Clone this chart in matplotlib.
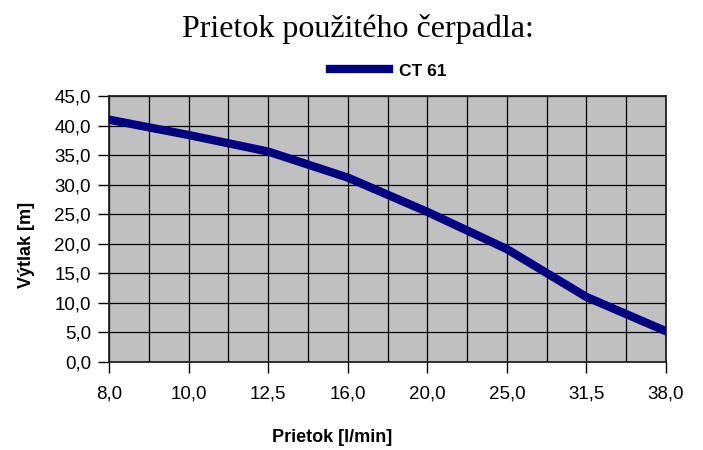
import matplotlib.pyplot as plt
from matplotlib.ticker import FixedLocator

flow_labels = ["8,0", "10,0", "12,5", "16,0", "20,0", "25,0", "31,5", "38,0"]
head_ct61 = [41.0, 38.4, 35.6, 31.2, 25.4, 19.1, 11.0, 5.2]
y_ticks = [0, 5, 10, 15, 20, 25, 30, 35, 40, 45]

fig = plt.figure(figsize=(7.03, 4.5), dpi=100)
ax = fig.add_axes([109 / 703, 1 - 362 / 450, (666 - 109) / 703, (362 - 96) / 450])

xs = list(range(len(flow_labels)))
ax.set_facecolor("#c0c0c0")
ax.plot(xs, head_ct61, color="#000080", linewidth=6, solid_joinstyle="round",
        label="CT 61", zorder=3)

ax.set_xlim(0, len(flow_labels) - 1)
ax.set_ylim(0, 45)
ax.set_xticks(xs)
ax.set_xticklabels(flow_labels, fontfamily="Liberation Sans", fontsize=13.5)
ax.xaxis.set_minor_locator(FixedLocator([i + 0.5 for i in xs[:-1]]))
ax.set_yticks(y_ticks)
ax.set_yticklabels([f"{v:.1f}".replace(".", ",") for v in y_ticks],
                   fontfamily="Liberation Sans", fontsize=13.5)
ax.grid(True, which="both", color="black", linewidth=0.9, zorder=1)
ax.set_axisbelow(True)
ax.tick_params(axis="both", which="major", length=8, width=1.0, color="black")
ax.tick_params(axis="y", pad=5)
ax.tick_params(axis="x", pad=9)
ax.tick_params(axis="x", which="minor", length=0)
for s in ax.spines.values():
    s.set_color("#222222")
    s.set_linewidth(1.3)

ax.set_xlabel("Prietok [l/min]", fontfamily="Liberation Sans", fontsize=13,
              fontweight="bold", va="top")
ax.xaxis.set_label_coords(0.401, -0.25)
ax.set_ylabel("Výtlak [m]", fontfamily="Liberation Sans", fontsize=13,
              fontweight="bold")
ax.yaxis.set_label_coords(-0.133, 0.44)

fig.text(0.509, 1 - 29 / 450, "Prietok použitého čerpadla:", ha="center", va="center",
         fontfamily="Liberation Serif", fontsize=23)
fig.legend(loc="center", bbox_to_anchor=(388 / 703, 1 - 71 / 450), frameon=False,
           handlelength=3.4, handletextpad=0.55,
           prop={"family": "Liberation Sans", "weight": "bold", "size": 12.5})

fig.savefig("out.png", dpi=100)
